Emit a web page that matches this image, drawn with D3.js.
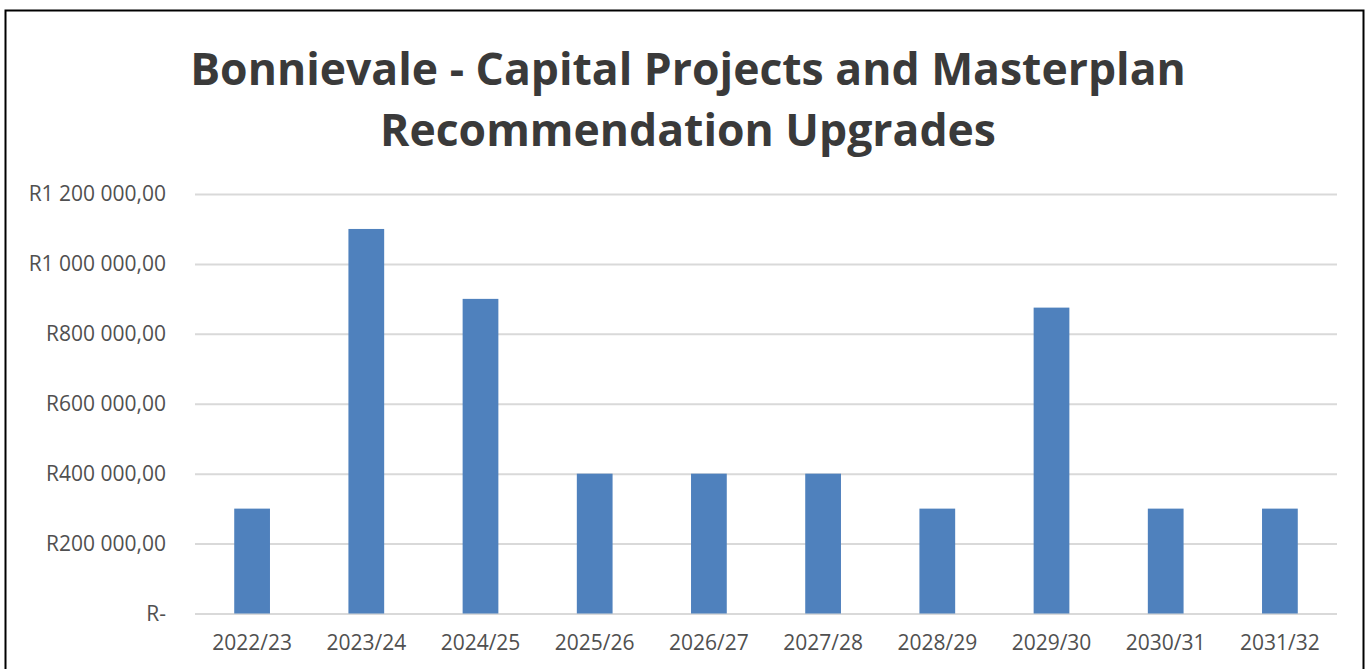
<!DOCTYPE html>
<html>
<head>
<meta charset="utf-8">
<script src="https://cdn.jsdelivr.net/npm/d3@7"></script>
<style>
  body { margin: 0; background: #fff; }
  svg { display: block; }
</style>
</head>
<body>
<script>
// data
const years = ["2022/23", "2023/24", "2024/25", "2025/26", "2026/27", "2027/28", "2028/29", "2029/30", "2030/31", "2031/32"]
const amounts = [300000, 1100000, 900000, 400000, 400000, 400000, 300000, 875000, 300000, 300000]
const yTicks = [0, 200000, 400000, 600000, 800000, 1000000, 1200000]
const titleLines = ["Bonnievale - Capital Projects and Masterplan", "Recommendation Upgrades"]

const WIDTH = 1368
const HEIGHT = 669
const FONT = "'Open Sans', 'Liberation Sans', sans-serif"

const svg = d3.select("body").append("svg")
  .attr("width", WIDTH).attr("height", HEIGHT)

// chart frame (bottom edge is off screen in the reference)
svg.append("rect")
  .attr("x", 5.5).attr("y", 10.5)
  .attr("width", 1358).attr("height", 700)
  .attr("fill", "none").attr("stroke", "#000").attr("stroke-width", 2)

const x = d3.scaleBand()
  .domain(years)
  .range([195, 1337])
  .paddingInner(0.687)
  .paddingOuter(0.3435)

const y = d3.scaleLinear()
  .domain([0, 1200000])
  .range([613.5, 194])

// R 1 200 000,00 style labels
function rand(v) {
  if (v === 0) return "R-"
  const s = d3.format(",.2f")(v)
  return "R" + s.replace(/,/g, " ").replace(".", ",")
}

// gridlines + y labels
const yAxis = d3.axisLeft(y)
  .tickValues(yTicks)
  .tickSize(-(1337 - 195))
  .tickPadding(29)
  .tickFormat(rand)

const gy = svg.append("g")
  .attr("transform", "translate(195,0)")
  .call(yAxis)
gy.select(".domain").remove()
gy.selectAll(".tick line").attr("stroke", "#d9d9d9").attr("stroke-width", 2)
gy.selectAll(".tick text")
  .attr("fill", "#505050")
  .style("font-family", FONT)
  .style("font-size", "21px")

// bars
svg.selectAll("rect.bar")
  .data(amounts)
  .enter()
  .append("rect")
  .attr("class", "bar")
  .attr("x", (d, i) => x(years[i]))
  .attr("y", d => y(d))
  .attr("width", x.bandwidth())
  .attr("height", d => y(0) - y(d))
  .attr("fill", "#4f81bd")

// x labels
const xAxis = d3.axisBottom(x).tickSize(0).tickPadding(22)
const gx = svg.append("g")
  .attr("transform", `translate(0,${y(0)})`)
  .call(xAxis)
gx.select(".domain").remove()
gx.selectAll(".tick text")
  .attr("fill", "#505050")
  .style("font-family", FONT)
  .style("font-size", "21px")

// title
svg.selectAll("text.title")
  .data(titleLines)
  .enter()
  .append("text")
  .attr("class", "title")
  .attr("x", 688)
  .attr("y", (d, i) => 85 + i * 61)
  .attr("text-anchor", "middle")
  .attr("fill", "#3a3a3a")
  .style("font-family", FONT)
  .style("font-weight", "bold")
  .style("font-size", "44.5px")
  .text(d => d)
</script>
</body>
</html>
